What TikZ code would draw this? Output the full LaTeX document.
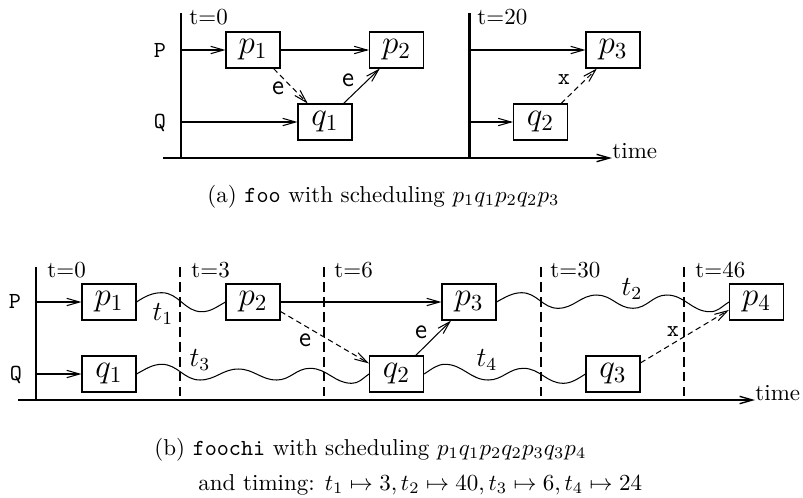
\documentclass[tikz,border=0pt]{standalone}
\usetikzlibrary{arrows.meta,calc}
\begin{document}
\begin{tikzpicture}[x=0.435pt,y=-0.435pt,
  box/.style={draw,line width=0.45pt,inner sep=0pt,minimum width=23.5pt,minimum height=15.66pt,font=\Large},
  conn/.style={line width=0.45pt,-{Straight Barb[length=5.6pt,width=3.2pt]}},
  dconn/.style={conn,dash pattern=on 2.4pt off 1.6pt},
  wave/.style={line width=0.45pt},
  axisline/.style={line width=1.1pt},
  timeaxis/.style={line width=0.6pt,-{Straight Barb[length=5.6pt,width=3.2pt]}},
  tickline/.style={line width=1pt,dash pattern=on 4.3pt off 2.2pt},
  tlab/.style={anchor=base west,inner sep=0pt},
  proclab/.style={font=\ttfamily,anchor=base,inner sep=0pt},
  elab/.style={font=\large\sffamily,inner sep=0pt},
  xlab/.style={font=\ttfamily,inner sep=0pt},
  wlab/.style={font=\large,inner sep=0pt},
  caplab/.style={anchor=base west,inner sep=0pt},
]
\useasboundingbox (0,0) rectangle (803,497);

% ---------------- (a) ----------------
\coordinate (a0t) at (181,13); \coordinate (a0b) at (181,158);
\coordinate (a1t) at (469.3,13); \coordinate (a1b) at (469.3,158);
\coordinate (aO) at (163,158); \coordinate (aE) at (612,158);
\draw[axisline] (a0t) -- (a0b);
\draw[axisline] (a1t) -- (a1b);
\draw[timeaxis] (aO) -- (aE);
\node[tlab] (atime) at (aE) {time};
\node[tlab] (at0) at (189,24) {t=0};
\node[tlab] (at20) at (477,24) {t=20};
\node[proclab] (aPl) at (160,57) {P};
\node[proclab] (aQl) at (160,128) {Q};

\node[box] (ap1) at (253,50) {$p_1$};
\node[box] (ap2) at (396.5,50) {$p_2$};
\node[box] (aq1) at (325,122) {$q_1$};
\node[box] (ap3) at (613,50) {$p_3$};
\node[box] (aq2) at (540.5,122) {$q_2$};

\coordinate (aP) at (181,50); \coordinate (aQ) at (181,122);
\coordinate (aP2) at (469.3,50); \coordinate (aQ2) at (469.3,122);
\draw[conn] (aP) -- (ap1.west);
\draw[conn] (aQ) -- (aq1.west);
\draw[conn] (ap1.east) -- (ap2.west);
\draw[dconn] (ap1.-42) -- (aq1.133);
\draw[conn] (aq1.45) -- (ap2.-132.5);
\draw[conn] (aP2) -- (ap3.west);
\draw[conn] (aQ2) -- (aq2.west);
\draw[dconn] (aq2.42.7) -- (ap3.-131.6);
\node[elab] (ae1) at (278,88) {e};
\node[elab] (ae2) at (348,80) {e};
\node[xlab] (ax1) at (564,80) {x};

\node[caplab] (capa) at (207,202) {(a) \texttt{foo} with scheduling $p_1q_1p_2q_2p_3$};

% ---------------- (b) ----------------
\coordinate (b0t) at (36,267); \coordinate (b0b) at (36,400);
\coordinate (bO) at (18,400); \coordinate (bE) at (755,400);
\draw[axisline] (b0t) -- (b0b);
\draw[timeaxis] (bO) -- (bE);
\node[tlab] (btime) at (bE) {time};
\foreach \xx/\nm in {180/b1,324.3/b2,540.7/b3,684.3/b4}{
  \coordinate (\nm t) at (\xx,267); \coordinate (\nm b) at (\xx,400);
  \draw[tickline] (\nm t) -- (\nm b);
}
\node[tlab] (bt0) at (47,277) {t=0};
\node[tlab] (bt3) at (191,277) {t=3};
\node[tlab] (bt6) at (334,277) {t=6};
\node[tlab] (bt30) at (550,277) {t=30};
\node[tlab] (bt46) at (695,277) {t=46};
\node[proclab] (bPl) at (15,308) {P};
\node[proclab] (bQl) at (16,380) {Q};

\node[box] (bp1) at (109,302) {$p_1$};
\node[box] (bq1) at (109,374) {$q_1$};
\node[box] (bp2) at (253,302) {$p_2$};
\node[box] (bq2) at (396.5,374) {$q_2$};
\node[box] (bp3) at (469,302) {$p_3$};
\node[box] (bq3) at (613,374) {$q_3$};
\node[box] (bp4) at (756.5,302) {$p_4$};

\coordinate (bP) at (36,302); \coordinate (bQ) at (36,374);
\draw[conn] (bP) -- (bp1.west);
\draw[conn] (bQ) -- (bq1.west);
\draw[conn] (bp2.east) -- (bp3.west);
\draw[dconn] (bp2.-19.8) -- (bq2.159.3);
\draw[conn] (bq2.44) -- (bp3.-134);
\draw[dconn] (bq3.22) -- (bp4.196);

\draw[wave] (bp1.east) .. controls +(9,-6) and +(-9,0) .. (161.7,292.7)
  to[out=0,in=180] (201.7,311.7)
  .. controls +(9,0) and +(-9,5) .. (bp2.west);
\draw[wave] (bq1.east) .. controls +(9,-5) and +(-9,0) .. (161.7,364.3)
  to[out=0,in=180] (200,380) to[out=0,in=180] (238.3,369)
  to[out=0,in=180] (276.7,380) to[out=0,in=180] (310,368.3)
  to[out=0,in=180] (351.7,383.3)
  .. controls +(7,0) and +(-7,5) .. (bq2.west);
\draw[wave] (bp3.east) .. controls +(9,-5) and +(-9,0) .. (521.7,292.7)
  to[out=0,in=180] (558,308.3) to[out=0,in=180] (596.7,295)
  to[out=0,in=180] (633,308.3) to[out=0,in=180] (666.7,295)
  to[out=0,in=180] (710,311.7)
  .. controls +(8,0) and +(-8,5) .. (bp4.west);
\draw[wave] (bq2.east) .. controls +(8,-5) and +(-8,0) .. (445,364.3)
  to[out=0,in=180] (488.3,380) to[out=0,in=180] (523.3,368.3)
  to[out=0,in=180] (563.3,383.3)
  .. controls +(8,0) and +(-8,5) .. (bq3.west);

\node[elab] (be1) at (305,340) {e};
\node[elab] (be2) at (421,332) {e};
\node[xlab] (bx1) at (673,332) {x};
\node[wlab] (wt1) at (163,314) {$t_1$};
\node[wlab] (wt3) at (200,360) {$t_3$};
\node[wlab] (wt2) at (632,289) {$t_2$};
\node[wlab] (wt4) at (487,360) {$t_4$};

\node[caplab] (capb1) at (154,455) {(b) \texttt{foochi} with scheduling $p_1q_1p_2q_2p_3q_3p_4$};
\node[caplab] (capb2) at (198,490) {and timing: $t_1\mapsto 3, t_2\mapsto 40, t_3\mapsto 6, t_4\mapsto 24$};
\end{tikzpicture}
\end{document}
